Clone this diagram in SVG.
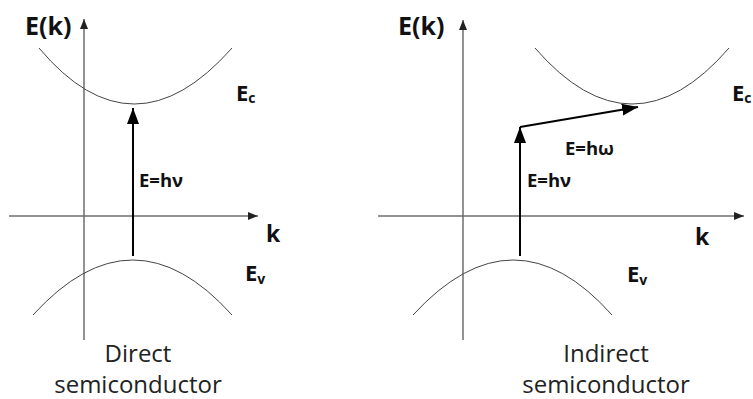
<svg xmlns="http://www.w3.org/2000/svg" width="753" height="399" viewBox="0 0 753 399">
<defs>
<marker id="axh" viewBox="0 0 10 8" refX="10" refY="4" markerWidth="10" markerHeight="8" markerUnits="userSpaceOnUse" orient="auto">
<path d="M0,0 L10,4 L0,8 Z" fill="#222"/>
</marker>
<marker id="trh" viewBox="0 0 16 12" refX="16" refY="6" markerWidth="16" markerHeight="12" markerUnits="userSpaceOnUse" orient="auto">
<path d="M0,0 L16,6 L0,12 Z" fill="#000"/>
</marker>
</defs>
<style>
.axis{stroke:#6e6e6e;stroke-width:1.5;fill:none}
.band{stroke:#444;stroke-width:1;fill:none}
.tr{stroke:#000;stroke-width:2;fill:none}
.big{font-family:"Open Sans","Liberation Sans",sans-serif;font-weight:bold;fill:#111}
.lab{font-family:"Open Sans","Liberation Sans",sans-serif;font-weight:bold;font-size:18.5px;fill:#111}
.cap{font-family:"Open Sans","Liberation Sans",sans-serif;font-size:24px;fill:#222;text-anchor:middle}
</style>
<rect width="753" height="399" fill="#fff"/>
<g id="direct">
<g id="direct-axes">
<line class="axis" x1="84" y1="340" x2="84" y2="19" marker-end="url(#axh)"/>
<line class="axis" x1="9" y1="216" x2="258" y2="216" marker-end="url(#axh)"/>
</g>
<g id="direct-bands">
<path class="band" d="M39,48 Q133,160 232,48"/>
<path class="band" d="M33,315 Q133,205 232,315"/>
</g>
<g id="direct-connectors">
<line class="tr" x1="133" y1="256" x2="133" y2="108" marker-end="url(#trh)"/>
</g>
<text class="big" x="25" y="35" font-size="25">E(k)</text>
<text class="big" x="236" y="101" font-size="22">E<tspan font-size="14" dy="2">c</tspan></text>
<text class="big" x="245" y="281" font-size="22">E<tspan font-size="14" dy="3">v</tspan></text>
<text class="big" x="266" y="242" font-size="23">k</text>
<text class="lab" x="139" y="187">E=hν</text>
<text class="cap" x="138" y="362">Direct</text>
<text class="cap" x="138" y="393">semiconductor</text>
</g>
<g id="indirect">
<g id="indirect-axes">
<line class="axis" x1="463" y1="340" x2="463" y2="20" marker-end="url(#axh)"/>
<line class="axis" x1="378" y1="216" x2="744" y2="216" marker-end="url(#axh)"/>
</g>
<g id="indirect-bands">
<path class="band" d="M535,48 Q632,160 729,48"/>
<path class="band" d="M413,315 Q514,205 612,315"/>
</g>
<g id="indirect-connectors">
<line class="tr" x1="520" y1="256" x2="520" y2="127" marker-end="url(#trh)"/>
<line class="tr" x1="520" y1="127" x2="638" y2="107" marker-end="url(#trh)"/>
</g>
<text class="big" x="398" y="35" font-size="25">E(k)</text>
<text class="big" x="732" y="101" font-size="22">E<tspan font-size="14" dy="2">c</tspan></text>
<text class="big" x="627" y="282" font-size="22">E<tspan font-size="14" dy="3">v</tspan></text>
<text class="big" x="695" y="245" font-size="23">k</text>
<text class="lab" x="565" y="155">E=hω</text>
<text class="lab" x="527" y="187">E=hν</text>
<text class="cap" x="606" y="362">Indirect</text>
<text class="cap" x="606" y="393">semiconductor</text>
</g>
</svg>
